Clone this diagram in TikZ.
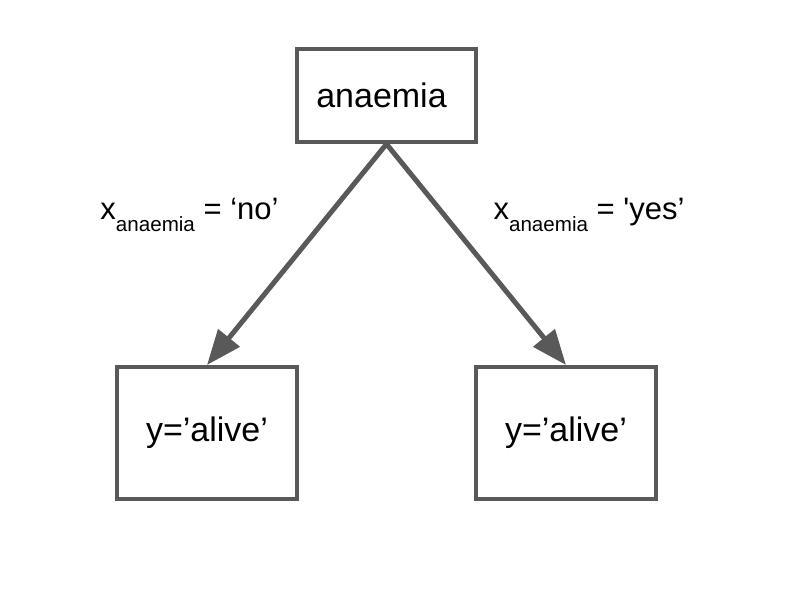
\documentclass[tikz,border=0pt]{standalone}
\usepackage{fontspec}
\newfontfamily\lfont{Liberation Sans}
\usetikzlibrary{arrows.meta}
\definecolor{edge}{HTML}{595959}
\tikzset{
  box/.style={draw=edge, line width=4pt, fill=white, inner sep=0pt, font=\lfont\fontsize{34}{40}\selectfont, text=black},
  conn/.style={draw=edge, line width=5pt, -{Triangle[length=35pt,width=27pt]}},
  lbl/.style={inner sep=0pt, anchor=base, font=\lfont\fontsize{31}{36}\selectfont, text=black}
}
\newcommand{\subtxt}[1]{\raisebox{-12pt}{\fontsize{20.6}{24}\selectfont #1}}
\begin{document}
\begin{tikzpicture}[x=1pt,y=-1pt]
\useasboundingbox (0,0) rectangle (806,596);
\node[box, minimum width=179pt, minimum height=93pt] (top) at (386.5,95.5) {\hspace*{-10pt}anaemia};
\node[box, minimum width=180pt, minimum height=132pt] (left) at (207,433) {y=’alive’};
\node[box, minimum width=180pt, minimum height=132pt] (right) at (566,433) {y=’alive’};
\draw[conn] (top.south) -- (left.north);
\draw[conn] (top.south) -- (right.north);
\node[lbl] (lno) at (189.5,220) {x\subtxt{anaemia} = ‘no’};
\node[lbl] (lyes) at (589,220) {x\subtxt{anaemia} = 'yes’};
\end{tikzpicture}
\end{document}
